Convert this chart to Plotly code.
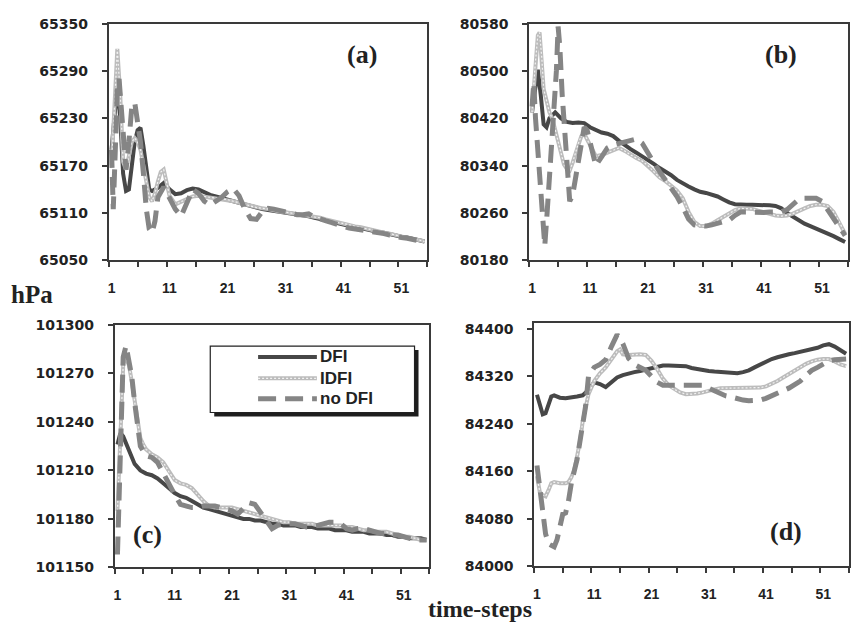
import plotly.graph_objects as go

W, H = 851, 631


def px(x):
    return x / W


def py(y):
    return 1 - y / H


# ---------------- data (time-step index, pressure in hPa) ----------------
tick_steps = [1, 11, 21, 31, 41, 51]
tick_text = ["1", "11", "21", "31", "41", "51"]

# panel (a)
a_dfi_x = [1, 1.5, 2, 2.5, 3, 3.5, 4, 4.5, 5, 5.5, 6, 6.5, 7, 7.5, 8] + list(range(9, 56))
a_dfi = [65190, 65230, 65272, 65230, 65160, 65138, 65140, 65170, 65200, 65215, 65218, 65195, 65165, 65140, 65138,
         65142, 65148, 65140, 65134, 65135, 65139, 65141, 65140, 65136, 65133, 65131, 65129, 65127, 65124, 65122,
         65120, 65119, 65117, 65115, 65114, 65113, 65112, 65111, 65110, 65108, 65107, 65106, 65104, 65103, 65101,
         65099, 65097, 65096, 65094, 65092, 65091, 65089, 65088, 65086, 65085, 65083, 65082, 65080, 65079, 65077,
         65076, 65074]
a_idfi_x = [1, 1.5, 2, 2.5, 3, 3.5, 4, 4.5, 5, 5.5, 6, 6.5, 7, 7.5, 8, 8.5, 9, 9.5, 10, 10.5] + list(range(11, 56))
a_idfi = [65170, 65250, 65318, 65260, 65175, 65165, 65185, 65200, 65205, 65200, 65190, 65170, 65150, 65130, 65125,
          65135, 65150, 65162, 65165, 65150,
          65132, 65121, 65124, 65128, 65131, 65132, 65131, 65130, 65129, 65128, 65127, 65125, 65123, 65121, 65119,
          65117, 65116, 65115, 65113, 65112, 65111, 65110, 65109, 65108, 65107, 65105, 65104, 65102, 65100, 65098,
          65097, 65095, 65093, 65092, 65090, 65089, 65087, 65085, 65084, 65082, 65081, 65079, 65077, 65076, 65074]
a_nodfi_x = [1, 1.3, 1.7, 2, 2.3, 2.7, 3, 3.5, 4, 4.5, 5, 5.5, 6, 6.5, 7, 7.5, 8, 8.5] + list(range(9, 56))
a_nodfi = [65190, 65115, 65200, 65270, 65280, 65240, 65200, 65165, 65200, 65245, 65250, 65225, 65200, 65160, 65115,
           65090, 65085, 65100,
           65130, 65143, 65128, 65115, 65106, 65125, 65140, 65135, 65125, 65120, 65125, 65130, 65137, 65141, 65132,
           65115, 65103, 65102, 65112, 65116, 65115, 65113, 65111, 65110, 65108, 65108, 65109, 65105, 65102, 65100,
           65098, 65095, 65093, 65091, 65090, 65089, 65088, 65086, 65085, 65084, 65082, 65080, 65079, 65078, 65077,
           65075, 65073]

# panel (b)
b_dfi_x = [1, 1.5, 2, 2.5, 3, 3.5, 4] + list(range(5, 56))
b_dfi = [80430, 80470, 80502, 80460, 80410, 80405, 80420,
         80430, 80420, 80414, 80412, 80413, 80412, 80405, 80400, 80396, 80394, 80390, 80382, 80374, 80368, 80362,
         80356, 80350, 80343, 80336, 80330, 80324, 80316, 80310, 80305, 80300, 80296, 80294, 80291, 80288, 80283,
         80278, 80275, 80274, 80274, 80274, 80274, 80274, 80273, 80272, 80268, 80260, 80254, 80248, 80242, 80238,
         80234, 80230, 80226, 80221, 80216, 80211]
b_idfi_x = [1, 1.5, 2, 2.3, 2.7, 3, 3.5, 4, 4.5, 5, 5.5, 6, 6.5, 7, 7.5, 8, 8.5, 9, 9.5] + list(range(10, 56))
b_idfi = [80430, 80505, 80560, 80565, 80520, 80470, 80450, 80430, 80420, 80400, 80380, 80360, 80342, 80335, 80332,
          80345, 80362, 80378, 80390,
          80394, 80375, 80356, 80358, 80362, 80367, 80370, 80365, 80358, 80353, 80348, 80340, 80330, 80320, 80314,
          80306, 80298, 80285, 80262, 80245, 80238, 80238, 80242, 80248, 80254, 80260, 80265, 80268, 80268, 80267,
          80264, 80261, 80258, 80256, 80255, 80256, 80259, 80264, 80268, 80272, 80274, 80274, 80272, 80262, 80245,
          80225]
b_nodfi_x = [1, 1.3, 1.6, 2, 2.3, 2.6, 3, 3.2, 3.6, 4, 4.3, 4.6, 5, 5.2, 5.5, 5.8, 6.2, 6.6, 7, 7.5, 8, 8.5, 9, 9.5,
             10, 10.5, 11, 11.5, 12] + list(range(13, 56))
b_nodfi = [80440, 80480, 80420, 80370, 80320, 80290, 80230, 80205, 80260, 80320, 80350, 80395, 80460, 80500, 80575,
           80540, 80460, 80410, 80350, 80280, 80290, 80320, 80350, 80385, 80405, 80400, 80380, 80360, 80340,
           80355, 80370, 80375, 80378, 80380, 80382, 80385, 80378, 80360, 80345, 80330, 80316, 80303, 80288, 80270,
           80250, 80240, 80238, 80238, 80240, 80242, 80244, 80248, 80256, 80262, 80262, 80261, 80261, 80261, 80262,
           80262, 80262, 80266, 80275, 80283, 80285, 80285, 80285, 80280, 80266, 80252, 80238, 80222]

# panel (c)
c_dfi_x = [1, 1.5, 2] + list(range(3, 56))
c_dfi = [101226, 101233, 101231,
         101222, 101214, 101210, 101208, 101207, 101205, 101202, 101199, 101196, 101194, 101193, 101191, 101189,
         101187, 101186, 101185, 101184, 101183, 101182, 101181, 101180, 101180, 101179, 101179, 101178, 101177,
         101177, 101176, 101176, 101176, 101175, 101175, 101175, 101174, 101174, 101174, 101173, 101173, 101173,
         101172, 101172, 101172, 101171, 101171, 101171, 101170, 101170, 101169, 101169, 101168, 101168, 101168,
         101167]
c_idfi_x = [1, 1.3, 1.7, 2, 2.3, 3, 3.5, 4, 4.5, 5, 5.5, 6] + list(range(7, 56))
c_idfi = [101185, 101210, 101250, 101275, 101281, 101275, 101265, 101252, 101240, 101230, 101226, 101223,
          101220, 101218, 101215, 101209, 101204, 101202, 101201, 101199, 101195, 101191, 101188, 101187, 101187,
          101187, 101187, 101186, 101185, 101184, 101183, 101182, 101181, 101180, 101179, 101178, 101178, 101177,
          101177, 101177, 101177, 101176, 101176, 101176, 101176, 101176, 101175, 101175, 101174, 101173, 101173,
          101172, 101172, 101172, 101171, 101170, 101169, 101169, 101168, 101167, 101167]
c_nodfi_x = [1, 1.5, 2, 2.5, 3, 3.5, 4, 4.5, 5] + list(range(6, 56))
c_nodfi = [101158, 101230, 101280, 101287, 101278, 101268, 101252, 101238, 101225,
           101219, 101218, 101215, 101208, 101202, 101195, 101189, 101188, 101187, 101187, 101188, 101188, 101188,
           101187, 101186, 101185, 101183, 101186, 101190, 101189, 101184, 101178, 101174, 101176, 101177, 101177,
           101177, 101176, 101175, 101175, 101176, 101177, 101178, 101178, 101177, 101174, 101173, 101174, 101174,
           101173, 101172, 101171, 101171, 101170, 101170, 101169, 101168, 101167, 101167, 101167]

# panel (d)
d_dfi_x = [1, 1.5, 2, 2.5, 3, 3.5, 4] + list(range(5, 56))
d_dfi = [84289, 84270, 84256, 84258, 84275, 84286, 84288,
         84284, 84283, 84284, 84286, 84288, 84297, 84310, 84307, 84302, 84310, 84318, 84322, 84325, 84327, 84329,
         84331, 84333, 84336, 84338, 84338, 84338, 84338, 84337, 84334, 84332, 84330, 84329, 84328, 84327, 84326,
         84325, 84325, 84327, 84330, 84335, 84340, 84345, 84349, 84352, 84355, 84357, 84359, 84361, 84363, 84365,
         84368, 84372, 84374, 84370, 84364, 84358]
d_idfi_x = [1, 1.5, 2, 2.5, 3, 3.5, 4, 5, 6, 6.5, 7, 7.5, 8, 8.5, 9, 9.5, 10, 11, 12, 13, 14, 15, 15.5] + list(range(16, 56))
d_idfi = [84152, 84125, 84120, 84118, 84128, 84140, 84142, 84140, 84140, 84142, 84150, 84162, 84185, 84210, 84245,
          84270, 84290, 84312, 84325, 84335, 84348, 84362, 84365,
          84357, 84356, 84357, 84357, 84356, 84346, 84332, 84316, 84305, 84298, 84293, 84290, 84290, 84291, 84293,
          84296, 84298, 84300, 84300, 84300, 84300, 84300, 84300, 84300, 84301, 84303, 84307, 84312, 84318, 84324,
          84330, 84336, 84341, 84345, 84348, 84349, 84349, 84345, 84340, 84337]
d_nodfi_x = [1, 1.5, 2, 2.5, 3, 3.5, 4, 4.5, 5, 5.5, 6, 6.5, 7, 7.5, 8, 8.5, 9, 9.5] + list(range(10, 56))
d_nodfi = [84170, 84130, 84090, 84055, 84038, 84035, 84033, 84045, 84070, 84088, 84090, 84110, 84140, 84160, 84180,
           84210, 84240, 84270,
           84320, 84335, 84340, 84348, 84370, 84390, 84375, 84350, 84340, 84336, 84330, 84320, 84310, 84305, 84305,
           84304, 84304, 84305, 84305, 84305, 84305, 84300, 84295, 84291, 84287, 84285, 84282, 84280, 84279, 84279,
           84280, 84283, 84288, 84292, 84296, 84300, 84305, 84312, 84322, 84330, 84335, 84340, 84346, 84348, 84349,
           84349]

series_names = ["DFI", "IDFI", "no DFI"]

panels = [
    # label, xaxis, yaxis, series, y range, y ticks
    ("(a)", "x", "y", [(a_dfi_x, a_dfi), (a_idfi_x, a_idfi), (a_nodfi_x, a_nodfi)],
     [65050, 65350], [65050, 65110, 65170, 65230, 65290, 65350]),
    ("(b)", "x2", "y2", [(b_dfi_x, b_dfi), (b_idfi_x, b_idfi), (b_nodfi_x, b_nodfi)],
     [80180, 80580], [80180, 80260, 80340, 80420, 80500, 80580]),
    ("(c)", "x3", "y3", [(c_dfi_x, c_dfi), (c_idfi_x, c_idfi), (c_nodfi_x, c_nodfi)],
     [101150, 101300], [101150, 101180, 101210, 101240, 101270, 101300]),
    ("(d)", "x4", "y4", [(d_dfi_x, d_dfi), (d_idfi_x, d_idfi), (d_nodfi_x, d_nodfi)],
     [84000, 84410], [84000, 84080, 84160, 84240, 84320, 84400]),
]

for _, _, _, ser, _, _ in panels:
    for xs, ys in ser:
        assert len(xs) == len(ys), (len(xs), len(ys))

# ---------------- styles ----------------
AX = "#3a3a3a"
TXT = "#222222"
DFI_COL = "#474747"
IDFI_COL = "#bcbcbc"
NODFI_COL = "#858585"
NODFI_DASH = "18px,9px"

# pixel boxes of the four plot areas: (left, right, top, bottom)
boxes = [(108, 428, 16, 259), (530, 850, 16, 259), (114, 430, 325, 574), (535, 851, 323, 573)]
label_pos = [(362, 48), (783, 48), (147, 540), (788, 537)]

fig = go.Figure()

for i, (lab, xa, ya, ser, yr, yt) in enumerate(panels):
    (dx, dy), (ix, iy), (nx, ny) = ser
    fig.add_trace(go.Scatter(x=dx, y=dy, xaxis=xa, yaxis=ya, mode="lines", name="DFI",
                             line=dict(color=DFI_COL, width=4), showlegend=False))
    fig.add_trace(go.Scatter(x=ix, y=iy, xaxis=xa, yaxis=ya, mode="lines", name="IDFI",
                             line=dict(color=IDFI_COL, width=4), showlegend=False))
    fig.add_trace(go.Scatter(x=ix, y=iy, xaxis=xa, yaxis=ya, mode="lines", name="IDFI",
                             line=dict(color="#f2f2f2", width=1.2, dash="2px,2px"), showlegend=False,
                             hoverinfo="skip"))
    fig.add_trace(go.Scatter(x=nx, y=ny, xaxis=xa, yaxis=ya, mode="lines", name="no DFI",
                             line=dict(color=NODFI_COL, width=5, dash=NODFI_DASH), showlegend=False))

layout = dict(
    width=W, height=H, margin=dict(l=0, r=0, t=0, b=0),
    paper_bgcolor="white", plot_bgcolor="white", showlegend=False,
)

for i, (lab, xa, ya, ser, yr, yt) in enumerate(panels):
    l, r, t, b = boxes[i]
    xkey = "xaxis" if i == 0 else "xaxis%d" % (i + 1)
    ykey = "yaxis" if i == 0 else "yaxis%d" % (i + 1)
    layout[xkey] = dict(
        domain=[px(l), min(px(r), 1.0)], anchor=ya, range=[0.5, 55.5],
        tickmode="array", tickvals=tick_steps, ticktext=tick_text, ticks="",
        showline=True, mirror=True, linecolor=AX, linewidth=1.5,
        showgrid=False, zeroline=False,
        tickfont=dict(family="Liberation Sans", size=14, color=TXT, weight="bold"),
        ticklabelstandoff=14,
        minor=dict(tickmode="array", tickvals=[0.5 + 5 * k for k in range(12)], ticks="outside",
                   ticklen=5, tickcolor=AX, tickwidth=1.5, showgrid=False),
    )
    layout[ykey] = dict(
        domain=[py(b), py(t)], anchor=xa, range=yr,
        tickmode="array", tickvals=yt, ticktext=[str(v) for v in yt],
        ticks="outside", ticklen=5, tickcolor=AX, tickwidth=1.5,
        showline=True, mirror=True, linecolor=AX, linewidth=1.5,
        showgrid=False, zeroline=False,
        tickfont=dict(family="DejaVu Sans", size=14, color=TXT, weight="bold"),
        ticklabelstandoff=11,
    )

annotations = []
for i, (lab, *_rest) in enumerate(panels):
    lx, ly = label_pos[i]
    annotations.append(dict(text=lab, x=px(lx), y=py(ly), xref="paper", yref="paper", showarrow=False,
                            xanchor="center", yanchor="middle",
                            font=dict(family="Liberation Serif", size=26, color=TXT, weight="bold")))

annotations.append(dict(text="hPa", x=px(31), y=py(294), xref="paper", yref="paper", showarrow=False,
                        xanchor="center", yanchor="middle",
                        font=dict(family="Liberation Serif", size=25, color=TXT, weight="bold")))
annotations.append(dict(text="time-steps", x=px(481), y=py(617), xref="paper", yref="paper", showarrow=False,
                        xanchor="center", yanchor="middle",
                        font=dict(family="Liberation Serif", size=24, color=TXT, weight="bold")))

# legend drawn inside panel (c)
shapes = [
    dict(type="rect", xref="paper", yref="paper", x0=px(214), x1=px(419), y0=py(419), y1=py(351),
         fillcolor="#1e1e1e", line=dict(width=0), layer="above"),
    dict(type="rect", xref="paper", yref="paper", x0=px(210), x1=px(415), y0=py(415), y1=py(347),
         fillcolor="white", line=dict(color="#222", width=1.2), layer="above"),
]
leg_rows = [358, 380, 401]
leg_styles = [dict(color=DFI_COL, width=4), dict(color=IDFI_COL, width=4),
              dict(color=NODFI_COL, width=5, dash=NODFI_DASH)]
for name, yy, st in zip(series_names, leg_rows, leg_styles):
    shapes.append(dict(type="line", xref="paper", yref="paper", x0=px(258), x1=px(317), y0=py(yy), y1=py(yy),
                       line=st, layer="above"))
    if name == "IDFI":
        shapes.append(dict(type="line", xref="paper", yref="paper", x0=px(258), x1=px(317), y0=py(yy),
                           y1=py(yy), line=dict(color="#f2f2f2", width=1.2, dash="2px,2px"), layer="above"))
    annotations.append(dict(text=name, x=px(318), y=py(yy), xref="paper", yref="paper", showarrow=False,
                            xanchor="left", yanchor="middle",
                            font=dict(family="Liberation Sans", size=17, color=TXT, weight="bold")))

layout["annotations"] = annotations
layout["shapes"] = shapes
fig.update_layout(**layout)

fig.write_html("out.html")
